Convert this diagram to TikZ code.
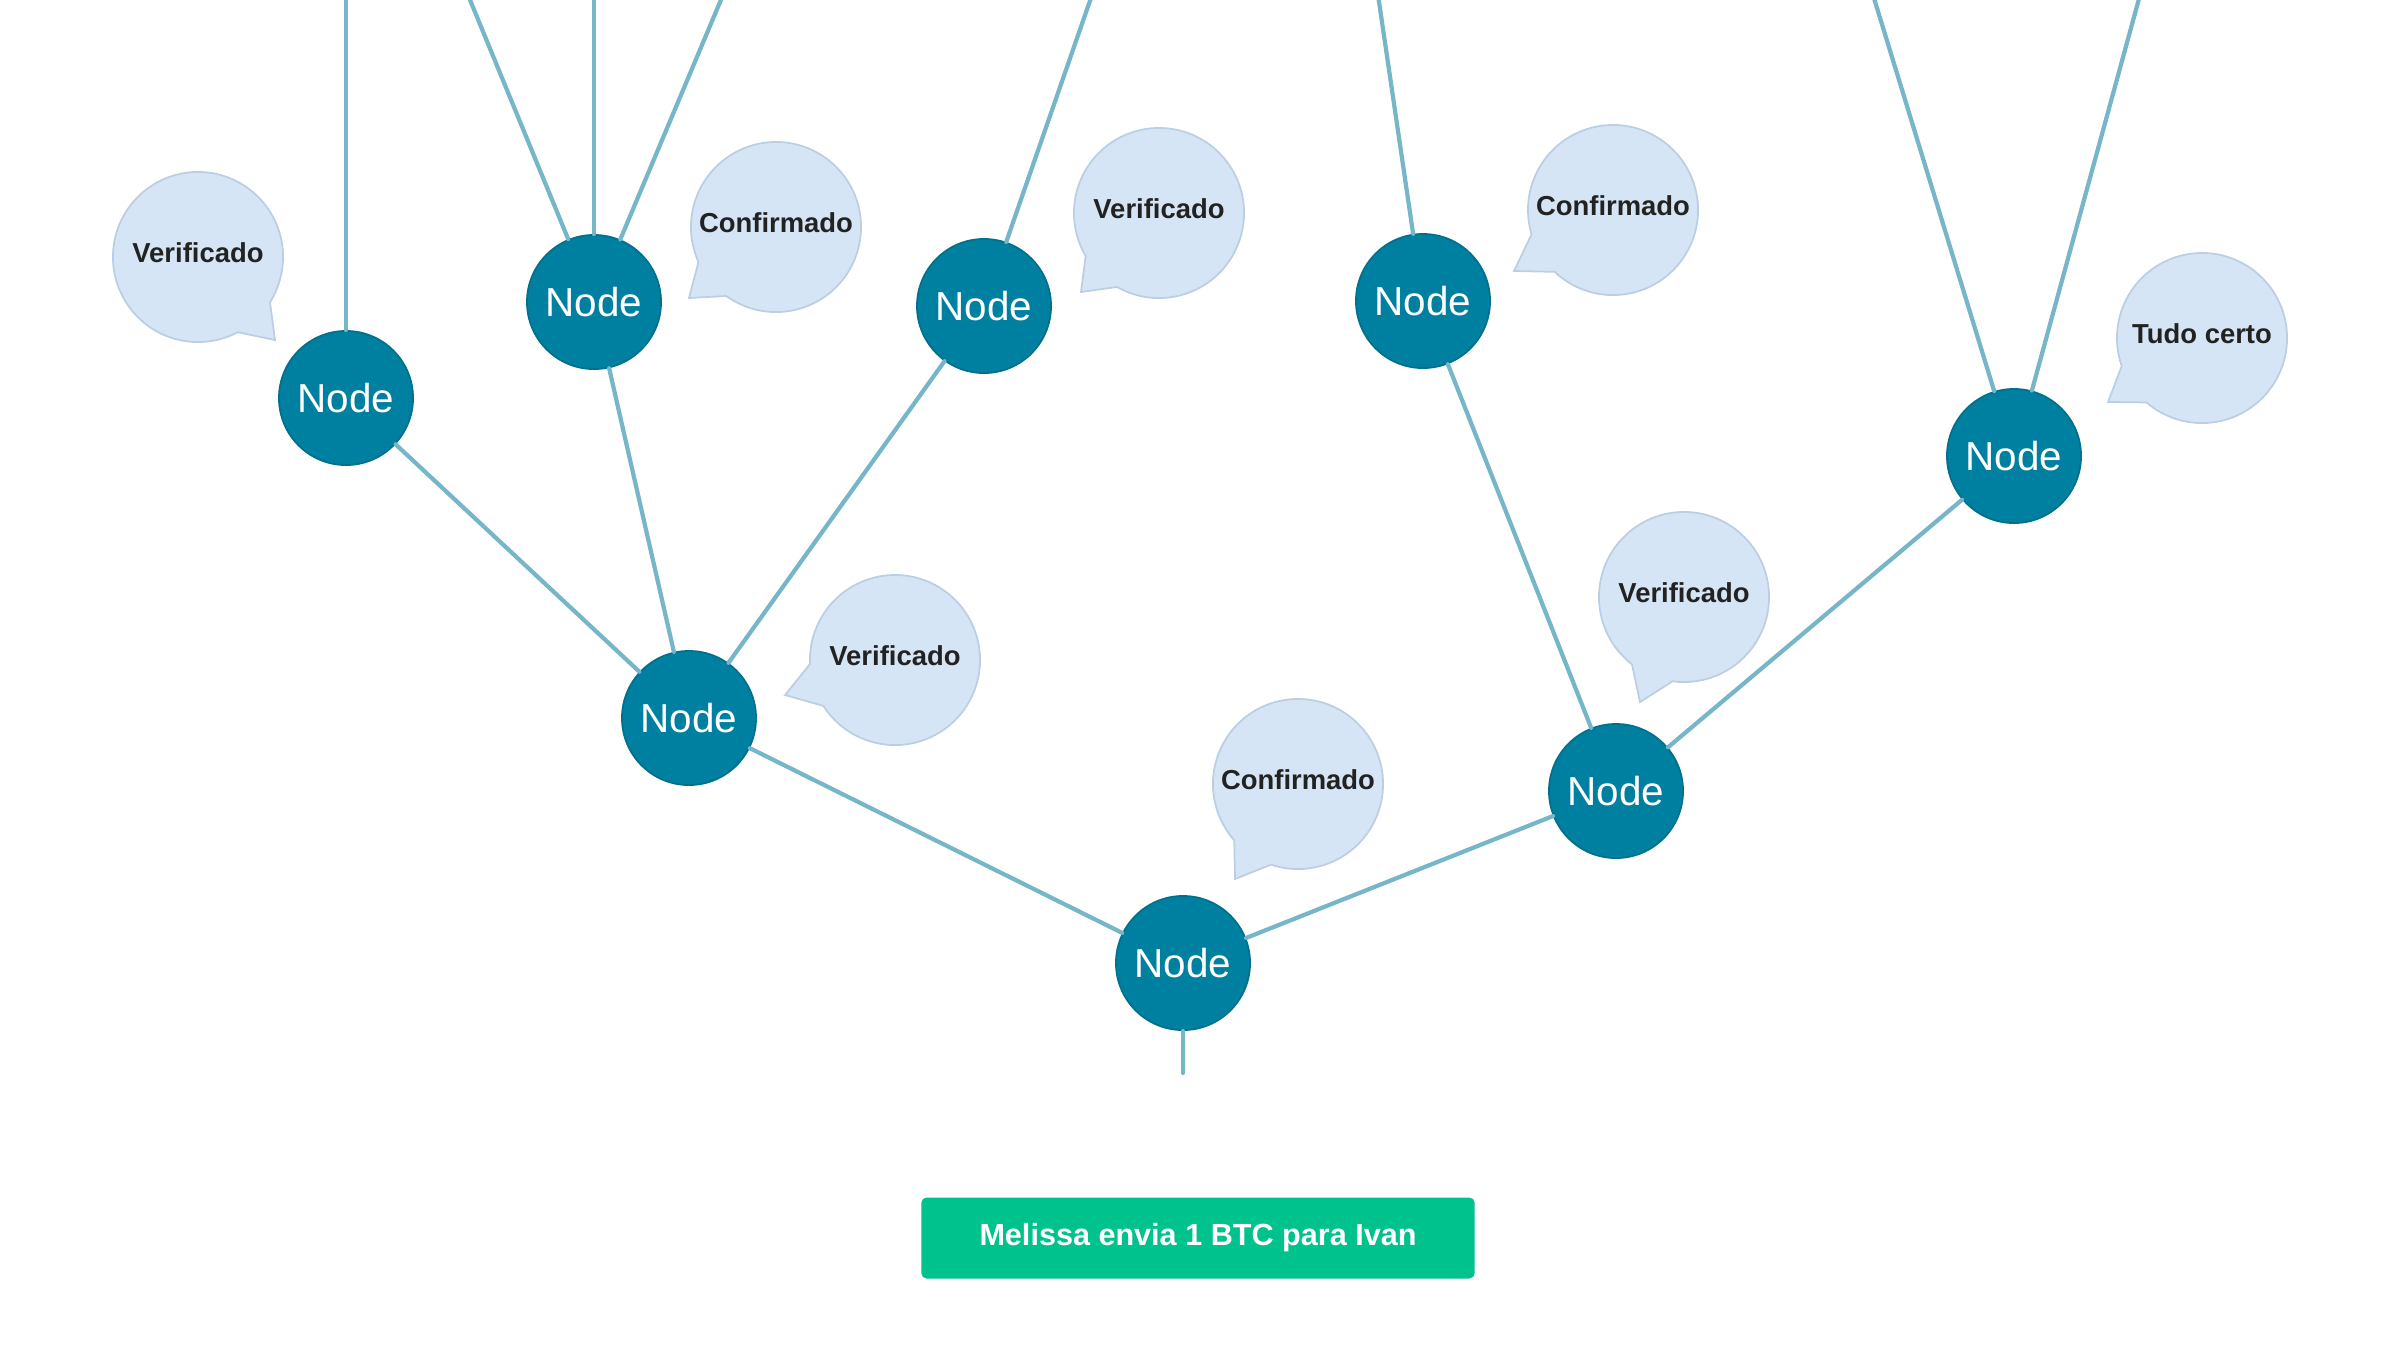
\documentclass[tikz,border=0pt]{standalone}
\usepackage{fontspec}
\setmainfont{Liberation Sans}
\usetikzlibrary{shapes.callouts}
\definecolor{nodeteal}{RGB}{0,128,160}
\definecolor{nodeedge}{RGB}{0,112,140}
\definecolor{linkblue}{RGB}{119,182,201}
\definecolor{bubblefill}{RGB}{213,229,245}
\definecolor{bubbleedge}{RGB}{188,207,226}
\definecolor{bubbletext}{RGB}{34,34,34}
\definecolor{sendgreen}{RGB}{0,194,140}
\tikzstyle{peer} = [circle, minimum size=1.34cm, inner sep=0pt, text centered, draw=nodeedge, line width=0.5pt, fill=nodeteal, text=white, font=\fontsize{11.5}{13}\selectfont]
\tikzstyle{bubble} = [ellipse callout, callout pointer arc=30, minimum width=1.7cm, minimum height=1.7cm, inner xsep=-12pt, inner ysep=0pt, text height=5.6pt, text depth=2.6pt, draw=bubbleedge, line width=0.5pt, fill=bubblefill, text=bubbletext, font=\bfseries\fontsize{7.8}{9}\selectfont]
\tikzstyle{txbox} = [rectangle, rounded corners=1.5pt, minimum width=5.53cm, minimum height=0.81cm, text centered, fill=sendgreen, text=white, font=\bfseries\fontsize{8.7}{10}\selectfont]
\tikzstyle{link} = [line width=1.2pt, draw=linkblue, line cap=round]

\begin{document}
\begin{tikzpicture}[x=0.01cm, y=-0.01cm]
		\useasboundingbox (0,0) rectangle (2400,1350);
		\node (root) [peer] at (1183,963) {Node};
		\node (left) [peer] at (689,718) {Node};
		\node (right) [peer] at (1616,791) {Node};
		\node (ll) [peer] at (346,398) {Node};
		\node (lm) [peer] at (594,302) {Node};
		\node (lr) [peer] at (984,306) {Node};
		\node (rl) [peer] at (1423,301) {Node};
		\node (rr) [peer] at (2014,456) {Node};
		\coordinate (stub) at (1183,1073);
		\coordinate (up1) at (346,-5);
		\coordinate (up2) at (468,-5);
		\coordinate (up3) at (594,-5);
		\coordinate (up4) at (723,-5);
		\coordinate (up5) at (1092,-5);
		\coordinate (up6) at (1378,-5);
		\coordinate (up7) at (1873,-5);
		\coordinate (up8) at (2140,-5);

		\node (vll) [bubble, callout absolute pointer={(275,340)}] at (198,257) {Verificado};
		\node (clm) [bubble, callout absolute pointer={(689,298)}] at (776,227) {Confirmado};
		\node (vlr) [bubble, callout absolute pointer={(1081,292)}] at (1159,213) {Verificado};
		\node (crl) [bubble, callout absolute pointer={(1514,271)}] at (1613,210) {Confirmado};
		\node (trr) [bubble, callout absolute pointer={(2108,402)}] at (2202,338) {Tudo certo};
		\node (vleft) [bubble, callout absolute pointer={(785,695)}] at (895,660) {Verificado};
		\node (croot) [bubble, callout absolute pointer={(1235,879)}] at (1298,784) {Confirmado};
		\node (vright) [bubble, callout absolute pointer={(1640,702)}] at (1684,597) {Verificado};

		\node (send) [txbox] at (1198,1238) {Melissa envia 1 BTC para Ivan};

		\draw [link] (root) -- (stub);
		\draw [link] (root) -- (left);
		\draw [link] (root) -- (right);
		\draw [link] (left) -- (ll);
		\draw [link] (left) -- (lm);
		\draw [link] (left) -- (lr);
		\draw [link] (right) -- (rl);
		\draw [link] (right) -- (rr);
		\draw [link] (ll) -- (up1);
		\draw [link] (lm) -- (up2);
		\draw [link] (lm) -- (up3);
		\draw [link] (lm) -- (up4);
		\draw [link] (lr) -- (up5);
		\draw [link] (rl) -- (up6);
		\draw [link] (rr) -- (up7);
		\draw [link] (rr) -- (up8);
\end{tikzpicture}
\end{document}
